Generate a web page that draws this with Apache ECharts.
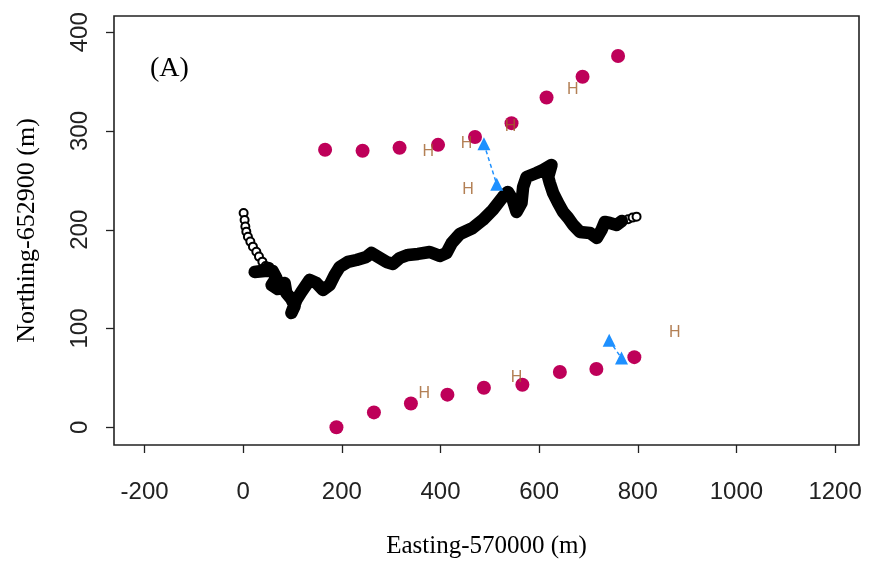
<!DOCTYPE html>
<html><head><meta charset="utf-8">
<script src="https://cdn.jsdelivr.net/npm/echarts@6/dist/echarts.min.js"></script>
<style>html,body{margin:0;padding:0;background:#fff}#c{width:869px;height:566px}</style>
</head><body><div id="c"></div>
<script>
const xTicks = [-200, 0, 200, 400, 600, 800, 1000, 1200];
const yTicks = [0, 100, 200, 300, 400];

// vehicle track (Easting-570000, Northing-652900)
const trackX = [0.8, 2.8, 4.3, 6.3, 9.5, 14.4, 19.7, 26.6, 31.9, 38.8, 45.4,
  51.5, 37.3, 23.1, 43.4, 59.6, 67.2, 57.6, 69.8, 84.0, 87.4, 97.6, 104.3, 97.6, 107.7,
  117.9, 134.7, 148.3, 161.7, 175.3, 185.4, 195.5, 212.4, 229.5, 249.7, 259.9, 273.3,
  290.3, 303.7, 317.3, 334.1, 354.4, 378.2, 398.5, 412.1, 422.8, 439.1, 465.4, 485.7,
  506.0, 526.3, 536.4, 546.6, 554.1, 564.2, 567.5, 574.4, 594.6, 608.0, 625.1, 618.2,
  621.6, 628.3, 638.5, 648.6, 658.8, 668.9, 682.5, 702.8, 717.0, 726.5, 733.2, 743.4,
  757.0, 767.7, 780.5, 789.4, 797.5];
const trackY = [217.0, 209.9, 203.3, 198.1, 193.0, 188.0, 182.9, 177.8, 172.8, 167.7, 163.3,
  161.3, 158.3, 157.3, 158.3, 158.3, 151.2, 144.1, 140.1, 146.1, 136.0, 129.9, 122.8, 115.7, 128.9,
  137.0, 149.2, 146.1, 139.0, 144.1, 154.2, 162.3, 167.4, 169.4, 172.5, 176.5, 172.5,
  167.4, 165.4, 171.4, 174.5, 175.5, 177.5, 173.5, 176.5, 186.6, 195.7, 201.8, 209.9,
  220.1, 233.2, 238.3, 230.2, 218.0, 227.1, 243.3, 253.5, 257.5, 260.6, 265.6, 253.5,
  247.4, 237.3, 227.1, 218.0, 212.0, 204.9, 197.8, 196.8, 191.7, 199.8, 207.9, 206.9,
  204.9, 208.9, 210.6, 212.3, 213.3];
const denseFrom = 11, denseTo = 75;

// receivers
const topRowX = [166, 242, 317, 395, 470, 544, 615, 688, 760];
const topRowY = [281, 280, 283, 286, 294, 308, 334, 355, 376];
const bottomRowX = [189, 265, 340, 414, 488, 566, 642, 716, 793];
const bottomRowY = [0, 15, 24, 33, 40, 43, 56, 59, 71];

// "H" estimates
const hX = [375, 453, 542, 668, 456, 367, 554, 875];
const hY = [279, 287, 304, 342, 241, 34, 50, 96];

// triangle pairs
const triAX = [488, 514], triAY = [287, 246];
const triBX = [742, 767], triBY = [88, 70];

const zip = (a, b) => a.map((v, i) => [v, b[i]]);
const track = zip(trackX, trackY);

const chart = echarts.init(document.getElementById('c'), null, {renderer: 'canvas'});
const sans = 'Liberation Sans, Arial, sans-serif';
const serif = 'Liberation Serif, Times New Roman, serif';
const plain = v => String(v);
chart.setOption({
  animation: false,
  backgroundColor: '#fff',
  grid: {left: 114, right: 10, top: 16, bottom: 121, show: true, borderColor: '#222', borderWidth: 1.6, backgroundColor: 'transparent'},
  xAxis: {
    type: 'value', min: -262, max: 1248.5,
    splitLine: {show: false},
    axisLine: {show: false, onZero: false},
    axisTick: {show: true, customValues: xTicks, length: 8, lineStyle: {color: '#222', width: 1.3}},
    axisLabel: {customValues: xTicks, formatter: plain, fontSize: 24, fontFamily: sans, color: '#222', margin: 35},
    name: 'Easting-570000 (m)', nameLocation: 'middle', nameGap: 89,
    nameTextStyle: {fontFamily: serif, fontSize: 25, color: '#000'}
  },
  yAxis: {
    type: 'value', min: -18, max: 416.5,
    splitLine: {show: false},
    axisLine: {show: false, onZero: false},
    axisTick: {show: true, customValues: yTicks, length: 8, lineStyle: {color: '#222', width: 1.3}},
    axisLabel: {customValues: yTicks, formatter: plain, rotate: 90, fontSize: 24, fontFamily: sans, color: '#222', margin: 22},
    name: 'Northing-652900 (m)', nameLocation: 'middle', nameGap: 74, nameRotate: 90,
    nameTextStyle: {fontFamily: serif, fontSize: 26, color: '#000'}
  },
  graphic: [{type: 'text', left: 150, top: 55, style: {text: '(A)', font: '28px ' + serif, fill: '#000'}}],
  series: [
    {type: 'scatter', data: track, symbol: 'emptyCircle', symbolSize: 8,
     itemStyle: {color: '#000', borderColor: '#000', borderWidth: 1.5, opacity: 1}, z: 2},
    {type: 'line', data: track.slice(denseFrom, denseTo), showSymbol: false, symbol: 'none',
     lineStyle: {color: '#000', width: 12.5, cap: 'round', join: 'round'}, z: 3},
    {type: 'scatter', data: zip(topRowX, topRowY).concat(zip(bottomRowX, bottomRowY)), symbol: 'circle', symbolSize: 14,
     itemStyle: {color: '#BE0059', opacity: 1}, z: 4},
    {type: 'scatter', data: zip(hX, hY), symbolSize: 2, itemStyle: {color: 'rgba(0,0,0,0)'},
     label: {show: true, position: 'inside', formatter: 'H', fontFamily: sans, fontSize: 16, color: '#A0602A'}, z: 5},
    {type: 'line', data: zip(triAX, triAY), symbol: 'triangle', symbolSize: 13, showSymbol: true,
     itemStyle: {color: '#1E90FF', opacity: 1}, lineStyle: {color: '#1E90FF', width: 1.5, type: [4, 3]}, z: 6},
    {type: 'line', data: zip(triBX, triBY), symbol: 'triangle', symbolSize: 13, showSymbol: true,
     itemStyle: {color: '#1E90FF', opacity: 1}, lineStyle: {color: '#1E90FF', width: 1.5, type: [4, 3]}, z: 6}
  ]
});
</script></body></html>
